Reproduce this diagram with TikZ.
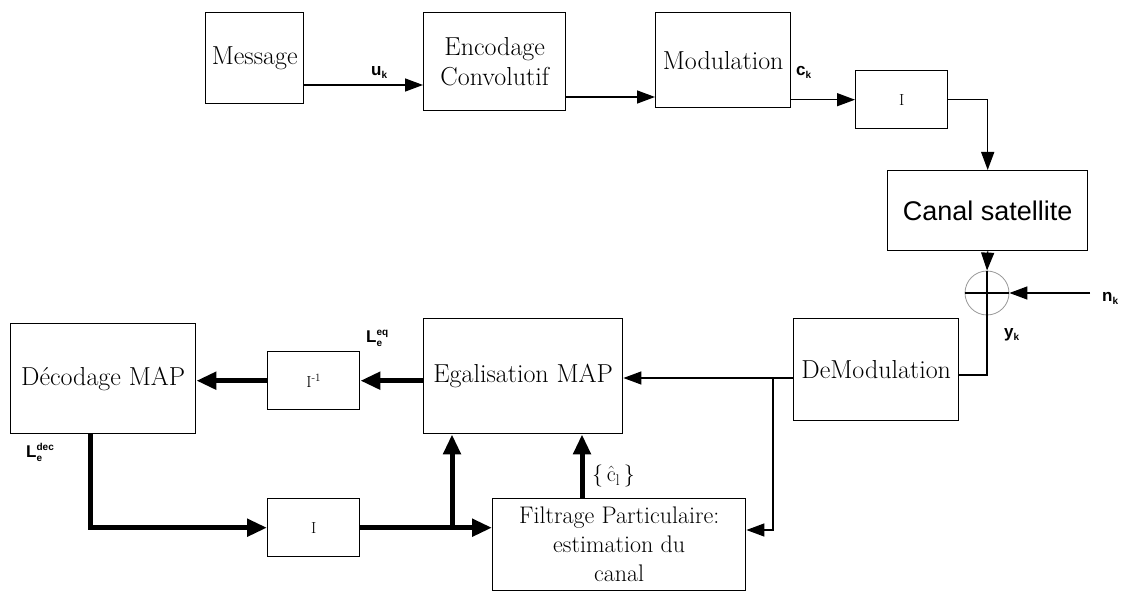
\documentclass[tikz,border=0pt]{standalone}
\usepackage{fontspec}
\setsansfont{Liberation Sans}
\usetikzlibrary{arrows.meta,calc}
% index with a subscript and a superscript set one after the other
\newcommand{\subsup}[3]{#1\rlap{\raisebox{-4pt}{\fontsize{10}{10}\selectfont #2}}\raisebox{7pt}{\fontsize{10}{10}\selectfont #3}}
\newcommand{\subonly}[2]{#1\raisebox{-3pt}{\fontsize{10}{10}\selectfont #2}}
\begin{document}
\begin{tikzpicture}[x=1pt,y=-1pt,
  box/.style={draw,line width=1.4pt,inner sep=0pt,anchor=north west,align=center,
    font=\fontsize{26}{30}\selectfont},
  smallbox/.style={box,font=\fontsize{16}{18}\selectfont},
  sansbox/.style={box,font=\sffamily\fontsize{27}{32}\selectfont},
  lbl/.style={inner sep=0pt,font=\sffamily\bfseries\fontsize{17}{20}\selectfont},
  wire/.style={line width=1.4pt},
  arr/.style={wire,-{Triangle[length=18pt,width=13pt]}},
  thick wire/.style={line width=5pt},
  tharr/.style={thick wire,-{Triangle[length=20pt,width=17pt]}}]
\useasboundingbox (0,0) rectangle (1124,601);

% transmitter chain
\node[box,minimum width=98pt,minimum height=91pt] (msg) at (205,12) {Message};
\node[box,minimum width=142pt,minimum height=98pt] (enc) at (423,12) {Encodage\\Convolutif};
\node[box,minimum width=135pt,minimum height=95pt] (mod) at (655,12) {Modulation};
\node[smallbox,minimum width=92pt,minimum height=58pt] (int1) at (855,70) {I};
\node[sansbox,minimum width=200pt,minimum height=80pt] (canal) at (887,170) {Canal satellite};

% noise adder
\node[draw=gray!80,line width=0.8pt,circle,minimum size=44pt,inner sep=0pt] (sum) at (987,293) {};
\draw[wire] (sum.north) -- (sum.south) (sum.west) -- (sum.east);

% receiver
\node[box,minimum width=165pt,minimum height=102pt] (demod) at (793,318) {DeModulation};
\node[box,minimum width=199pt,minimum height=115pt] (egal) at (423,318) {Egalisation MAP};
\node[smallbox,minimum width=92pt,minimum height=58pt] (deint) at (267,351) {I\textsuperscript{-1}};
\node[box,minimum width=185pt,minimum height=110pt] (dec) at (10,323) {Décodage MAP};
\node[smallbox,minimum width=92pt,minimum height=58pt] (int2) at (267,498) {I};
\node[box,minimum width=253pt,minimum height=92pt,font=\fontsize{24}{29}\selectfont] (filt) at (492,498)
  {Filtrage Particulaire:\\estimation du\\canal};

% signal labels
\node[lbl,anchor=south west] (uk) at (371,79) {\subonly{u}{k}};
\node[lbl,anchor=south west] (ck) at (796,79) {\subonly{c}{k}};
\node[lbl,anchor=west] (nk) at (1102,298) {\subonly{n}{k}};
\node[lbl,anchor=west] (yk) at (1004,335) {\subonly{y}{k}};
\node[lbl,anchor=west] (leq) at (366,338) {\subsup{L}{e}{eq}};
\node[lbl,anchor=west] (ldec) at (26,452) {\subsup{L}{e}{dec}};
\node[inner sep=0pt,anchor=west,font=\fontsize{22}{26}\selectfont] (chat) at (592,476)
  {\{\,$\hat{\mbox{c}}$\textsubscript{l}\,\}};

% forward path
\draw[arr] ([yshift=-73pt]msg.north east) -- ([yshift=-73pt]enc.north west);
\draw[arr] ([yshift=-85pt]enc.north east) -- ([yshift=-85pt]mod.north west);
\draw[arr] (mod.east |- int1.west) -- (int1.west);
\draw[arr] (int1.east) -| (canal.north);
\draw[arr] (canal.south) -- (sum.north);
\draw[arr] (1090,293) coordinate (nsrc) -- (sum.east);
\draw[wire] (sum.south) |- ([yshift=-57pt]demod.north east);

% receiver connections
\coordinate (rx) at ([yshift=-60pt]demod.north west);
\coordinate (tap) at (773,378);
\draw[arr] (rx) -- (rx -| egal.east);
\draw[arr] (tap) |- ([yshift=-32pt]filt.north east);

% iterative loop
\draw[tharr] (egal.west |- deint.east) -- (deint.east);
\draw[tharr] (deint.west) -- (deint.west -| dec.east);
\draw[tharr] ([xshift=80pt]dec.south west) |- (int2.west);
\draw[tharr] (int2.east) -- (int2.east -| filt.west);
\coordinate (split) at (452,527);
\draw[tharr] (split) -- (split |- egal.south);
\coordinate (fout) at (582,498);
\draw[tharr] (fout) -- (fout |- egal.south);
\end{tikzpicture}
\end{document}
